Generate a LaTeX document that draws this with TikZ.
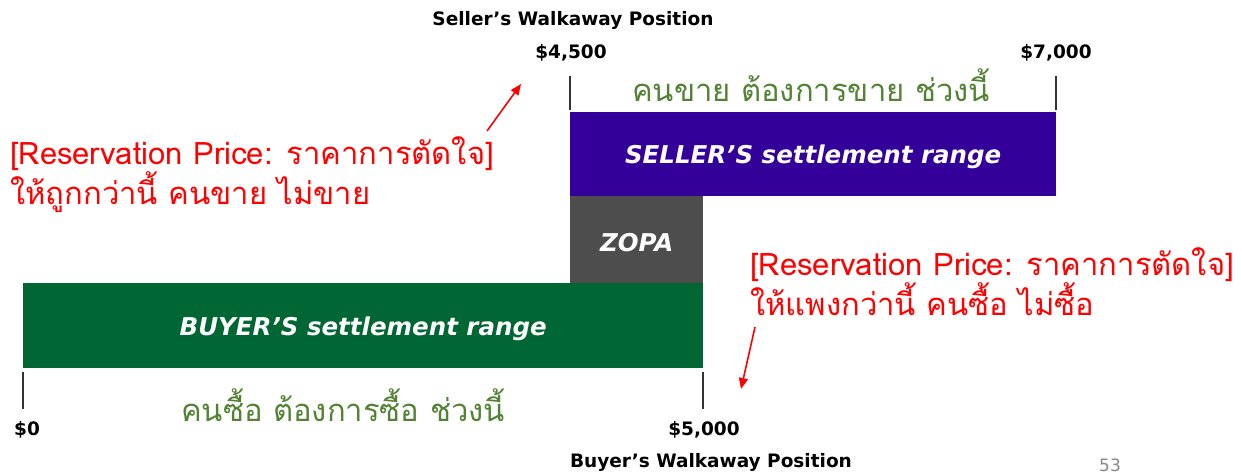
\documentclass[tikz,border=0pt]{standalone}
\usepackage{fontspec}
\setmainfont{DejaVu Sans}
\newfontfamily\thai[Script=Thai]{Loma}
\usetikzlibrary{arrows.meta}
\definecolor{sellerc}{HTML}{330099}
\definecolor{zopac}{HTML}{4D4D4D}
\definecolor{buyerc}{HTML}{006633}
\definecolor{thgreen}{HTML}{548235}
\definecolor{pagenum}{HTML}{888888}
\begin{document}
\begin{tikzpicture}[x=1pt,y=-1pt,
  lab/.style={font=\bfseries\fontsize{18.5}{18.5}\selectfont, inner sep=0},
  bar/.style={inner sep=0, anchor=north west},
  bartext/.style={text=white, font=\bfseries\itshape\fontsize{24.5}{24.5}\selectfont, inner sep=0, yshift=-3pt},
  thg/.style={text=thgreen, font=\thai\fontsize{31}{31}\selectfont, inner sep=0},
  redtxt/.style={text=red, font=\thai\fontsize{31}{37}\selectfont, align=left, inner sep=0, anchor=west},
  tickline/.style={draw=black!80, line width=1.6pt},
  rarrow/.style={draw=red, line width=1.6pt, -{Triangle[length=11pt,width=9pt]}}]
\useasboundingbox (0,0) rectangle (1242,473);

% bars
\node[bar, fill=sellerc, minimum width=486pt, minimum height=84pt] (seller) at (570,112) {};
\node[bar, fill=zopac, minimum width=133pt, minimum height=87pt] (zopa) at (570,196) {};
\node[bar, fill=buyerc, minimum width=680pt, minimum height=85pt] (buyer) at (23,283) {};
\node[bartext] (sellertxt) at (seller.center) {SELLER'S settlement range};
\node[bartext] (zopatxt) at (zopa.center) {ZOPA};
\node[bartext] (buyertxt) at (buyer.center) {BUYER'S settlement range};

% labels
\node[lab] (swp) at (573,20) {Seller's Walkaway Position};
\node[lab] (p4500) at (571,53) {\$4,500};
\node[lab] (p7000) at (1056,53) {\$7,000};
\node[lab] (p0) at (27,430) {\$0};
\node[lab] (p5000) at (704,430) {\$5,000};
\node[lab] (bwp) at (711,462) {Buyer's Walkaway Position};
\node[text=pagenum, font=\fontsize{17}{17}\selectfont, inner sep=0] (pnum) at (1110,465) {53};

% ticks
\coordinate (t1a) at (570,76); \coordinate (t1b) at (570,110);
\coordinate (t2a) at (1056,76); \coordinate (t2b) at (1056,110);
\coordinate (t3a) at (23,372); \coordinate (t3b) at (23,409);
\coordinate (t4a) at (703,372); \coordinate (t4b) at (703,409);
\draw[tickline] (t1a) -- (t1b);
\draw[tickline] (t2a) -- (t2b);
\draw[tickline] (t3a) -- (t3b);
\draw[tickline] (t4a) -- (t4b);

% green Thai texts
\node[thg] (sellwant) at (811,85) {คนขาย ต้องการขาย ช่วงนี้};
\node[thg] (buywant) at (343,405) {คนซื้อ ต้องการซื้อ ช่วงนี้};

% red notes
\node[redtxt] (leftnote) at (10,175) {[Reservation Price: ราคาการตัดใจ]\\ให้ถูกกว่านี้ คนขาย ไม่ขาย};
\node[redtxt] (rightnote) at (750,282) {[Reservation Price: ราคาการตัดใจ]\\ให้แพงกว่านี้ คนซื้อ ไม่ซื้อ};

% arrows
\coordinate (la) at (487,131); \coordinate (lb) at (521,84);
\coordinate (ra) at (755,327); \coordinate (rb) at (741,389);
\draw[rarrow] (la) -- (lb);
\draw[rarrow] (ra) -- (rb);
\end{tikzpicture}
\end{document}
